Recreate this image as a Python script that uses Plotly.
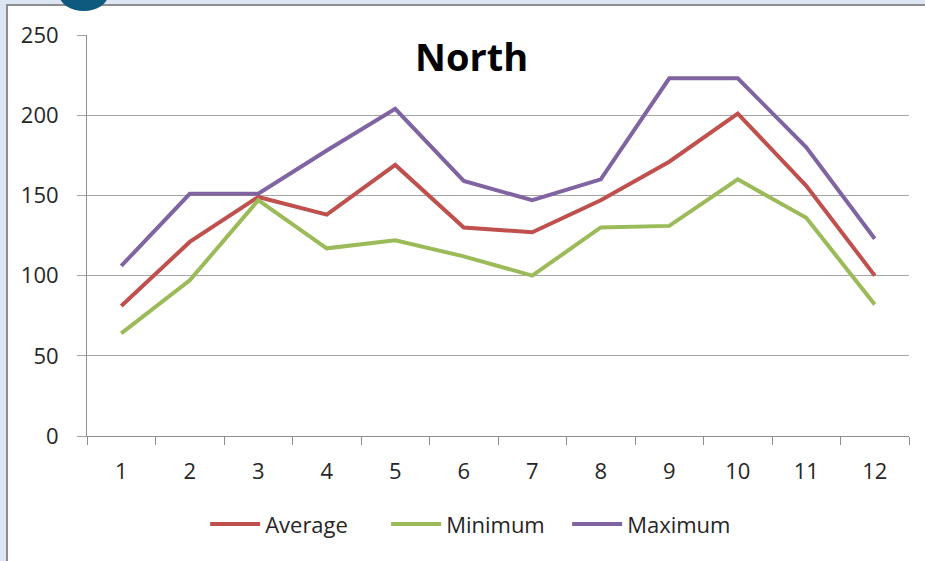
import plotly.graph_objects as go

months = ["1", "2", "3", "4", "5", "6", "7", "8", "9", "10", "11", "12"]
average = [81, 121, 149, 138, 169, 130, 127, 147, 171, 201, 156, 100]
minimum = [64, 97, 147, 117, 122, 112, 100, 130, 131, 160, 136, 82]
maximum = [106, 151, 151, 178, 204, 159, 147, 160, 223, 223, 180, 123]
y_ticks = [0, 50, 100, 150, 200, 250]

series = [
    ("Average", average, "#c0504d"),
    ("Minimum", minimum, "#9bbb59"),
    ("Maximum", maximum, "#8064a2"),
]

font_family = "Open Sans, Liberation Sans, sans-serif"

fig = go.Figure()
for name, values, color in series:
    fig.add_trace(go.Scatter(
        x=months, y=values, name=name, mode="lines",
        line=dict(color=color, width=4),
    ))

# Chart frame and the tab marker on its upper edge
fig.add_shape(type="rect", xref="paper", yref="paper",
              x0=-0.0973, x1=1.2, y0=-0.6, y1=1.0748,
              fillcolor="white", line=dict(color="#8e8e8e", width=2),
              layer="below")
fig.add_shape(type="circle", xref="paper", yref="paper",
              x0=-0.0335, x1=0.0255, y0=1.06, y1=1.14,
              fillcolor="#0e5a7e", line=dict(width=0), layer="above")

fig.update_layout(
    width=925, height=561,
    margin=dict(l=87, r=16, t=35, b=125),
    paper_bgcolor="#dbe6f2",
    plot_bgcolor="white",
    font=dict(family=font_family, size=22, color="#262626"),
    title=dict(text="<b>North</b>", xref="paper", x=0.468, xanchor="center",
               y=0.898, yanchor="middle",
               font=dict(family=font_family, size=38, color="black")),
    showlegend=True,
    legend=dict(orientation="h", x=0.474, xanchor="center",
                y=-0.22, yanchor="middle", bgcolor="rgba(0,0,0,0)",
                font=dict(size=22, color="#262626"),
                itemwidth=50, entrywidth=116, tracegroupgap=0),
    xaxis=dict(type="category", range=[-0.5, 11.5], tickson="boundaries",
               ticks="outside", ticklen=8, tickcolor="#8e8e8e",
               showline=True, linecolor="#8e8e8e", linewidth=1,
               showgrid=False, ticklabelstandoff=16),
    yaxis=dict(range=[0, 250], tickvals=y_ticks, ticks="outside",
               ticklen=9, tickcolor="#a0a0a0", showline=True,
               linecolor="#8e8e8e", linewidth=1, showgrid=True,
               gridcolor="#a6a6a6", gridwidth=1, zeroline=False,
               ticklabelstandoff=14),
)

fig.write_html("out.html")
